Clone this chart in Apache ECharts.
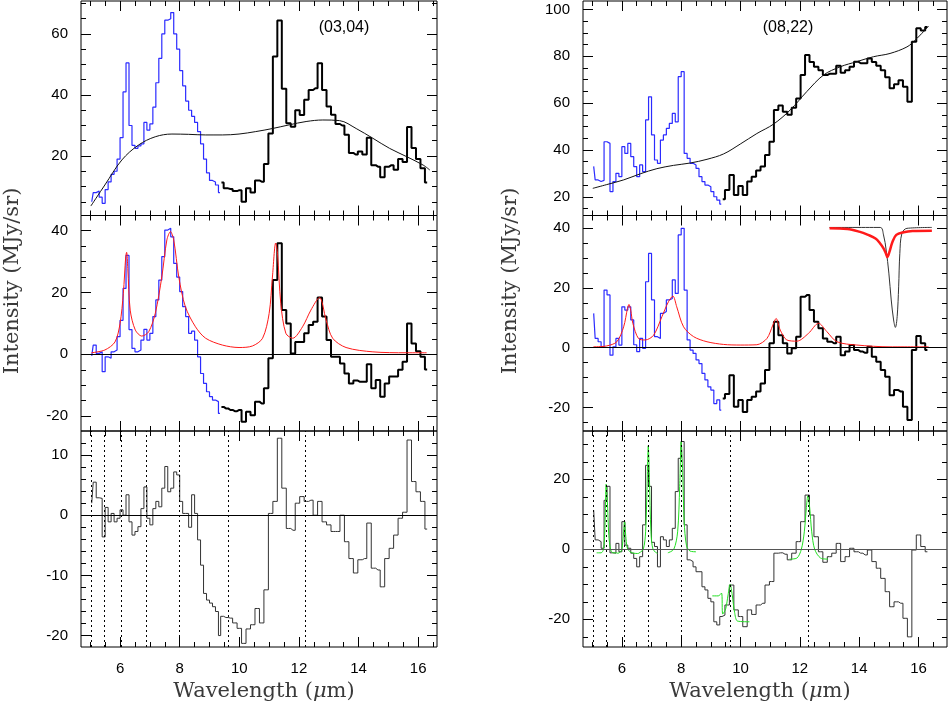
<!DOCTYPE html>
<html>
<head>
<meta charset="utf-8">
<script src="https://cdn.jsdelivr.net/npm/echarts@6/dist/echarts.min.js"></script>
<style>
  html, body { margin: 0; background: #fff; }
  #chart { width: 948px; height: 707px; }
</style>
</head>
<body>
<div id="chart"></div>
<script>
// Wavelength bins (um): short-wavelength module (blue, fine) and long-wavelength module (black, coarse)
const BLUE_X = [
  5.05, 5.15, 5.25, 5.35, 5.45, 5.55, 5.65, 5.75, 5.85, 5.95,
  6.05, 6.15, 6.25, 6.35, 6.45, 6.55, 6.65, 6.75, 6.85, 6.95,
  7.05, 7.15, 7.25, 7.35, 7.45, 7.55, 7.65, 7.75, 7.85, 7.95,
  8.05, 8.15, 8.25, 8.35, 8.45, 8.55, 8.65, 8.75, 8.85, 8.95,
  9.05, 9.15, 9.25, 9.35];
const BLACK_X = [
  9.40, 9.55, 9.70, 9.85, 10.00, 10.15, 10.30, 10.45, 10.60, 10.75,
  10.90, 11.05, 11.20, 11.35, 11.50, 11.65, 11.80, 11.95, 12.10, 12.25,
  12.40, 12.55, 12.70, 12.85, 13.00, 13.15, 13.30, 13.45, 13.60, 13.75,
  13.90, 14.05, 14.20, 14.35, 14.50, 14.65, 14.80, 14.95, 15.10, 15.25,
  15.40, 15.55, 15.70, 15.85, 16.00, 16.15, 16.30];

// ---- (03,04) ----
const LT_BLUE = [
  5, 8, 8.5, 6.5, 4.5, 9, 11.5, 14, 15, 19,
  26, 41, 50.5, 30, 23.5, 22.5, 23.3, 24, 31, 28.5,
  30.5, 36, 44, 52, 60, 64.5, 65, 67, 60, 55,
  48, 43, 38, 35, 33, 31, 28, 24, 19, 14.5,
  12, 11.5, 10.5, 8];
const LT_BLACK = [
  11.3, 9.4, 9.2, 8.5, 8.8, 5.0, 9.4, 8, 12, 11.6,
  17.4, 27.4, 52.6, 64.4, 42, 30.7, 29.6, 35, 33.4, 38.4,
  41.6, 42.2, 50.4, 41.6, 36.2, 33.5, 30.5, 30, 27, 21,
  20.5, 21.5, 20.5, 26, 17, 16.5, 13, 16.5, 17, 15.5,
  19, 18, 29.5, 22.6, 19, 16, 11.3];
const LT_CONT_X = [5.02, 5.49, 6.06, 6.62, 7.18, 7.74, 8.30, 8.87, 9.43, 9.99, 10.55,
  11.11, 11.67, 12.24, 12.80, 13.36, 13.92, 14.48, 15.04, 15.61, 16.17, 16.39];
const LT_CONT_Y = [3.6, 10.5, 18.7, 23.6, 26.3, 27.2, 27.1, 26.9, 26.9, 27.2, 28,
  29, 30.2, 31.3, 31.8, 31.6, 29, 25.8, 22.5, 19.8, 17, 15.4];

const LM_BLUE = [
  -0.5, 3, 0.3, 0.8, -5.6, -0.8, -1.3, 0.8, 1.4, 5.7,
  11, 21.3, 32, 8, 1.9, 0.8, 1.4, 4.6, 8.1, 4.6,
  6.8, 12.2, 17.6, 24, 31.6, 40.2, 40.8, 38, 29.4, 25,
  20.3, 15.4, 12.2, 6.8, 7.5, 4.6, -0.8, -6.2, -9.4, -12.1,
  -13.7, -14.8, -15.3, -19.1];
const LM_BLACK = [
  -17, -17.5, -18, -18.4, -18, -21.8, -18.6, -19.7, -15.3, -15.9,
  -11, -1.3, 24, 35.9, 14.3, 10, 0.3, 4, 4, 6.8,
  9.5, 10.5, 18.4, 12.2, 4.6, -0.8, -0.8, -3, -6.2, -9.4,
  -8.5, -8.9, -8.9, -3.2, -11, -8.3, -13.7, -9.4, -7.2, -7.2,
  -5, -2.4, 10, 3.5, 1, -0.8, -4.9];
const LM_FIT_X = [5.04, 5.49, 5.83, 6.0, 6.11, 6.19, 6.22, 6.26, 6.34, 6.51, 6.73, 6.96,
  7.18, 7.40, 7.57, 7.69, 7.80, 7.97, 8.19, 8.53, 8.87, 9.43, 9.99, 10.44, 10.78,
  11.0, 11.11, 11.22, 11.28, 11.39, 11.56, 11.79, 12.12, 12.40, 12.69, 12.91, 13.13,
  13.58, 14.48, 15.61, 16.28];
const LM_FIT_Y = [0.5, 1.4, 4, 10, 19.7, 31.6, 33, 27.8, 14.3, 7.9, 5.9, 7.3,
  13.2, 25, 37, 39.7, 37, 25, 15.4, 8.9, 5.2, 3, 2.2, 2.7, 5.2,
  13.2, 25, 36, 32.7, 16.5, 6.8, 5.2, 8.9, 14.3, 18.4, 11.1, 5.2,
  2.2, 0.8, 0.5, 0.5];

const LB_RES_BLUE = [
  2, 5.5, 2.9, 2.8, -3.6, 1.3, -1.1, 0.3, -1.1, -0.5,
  0.9, 0, 3.4, -1.1, -3.3, -2.7, -1.9, 1.1, 4.7, -0.5,
  -1.6, 1.1, 2.3, 1.4, 4.5, 8.1, 3.9, 4.5, 7.2, 6.7,
  2.3, 0.3, 0.3, -2, 3.4, 0.3, -4.1, -8.3, -13, -14.1,
  -14.6, -15.2, -16, -20];
const LB_RES_BLACK = [
  -16.8, -17, -17.1, -17.9, -18.8, -21.3, -18.9, -18.2, -15.5, -17.9,
  -12.4, 0.3, 2.3, 12.8, 4.5, -2.2, -2.5, 2, 3.1, 2.3,
  2.5, 0, 2.3, -1.1, -1.6, -2.7, -2.7, 0, -4.4, -7.2,
  -9.6, -7.4, -7.2, -1.3, -8.8, -9.1, -11.9, -7.2, -5.5, -3.3,
  -0.5, 0.5, 12.5, 5.6, 3.9, 2.3, -2.3];
const LB_LINES = [5.02, 5.46, 6.04, 6.87, 7.97, 9.63, 12.21];

// ---- (08,22) ----
const RT_BLUE = [
  33, 27.2, 26.5, 27, 43.5, 42.8, 22.2, 26.5, 30, 28.6,
  41.4, 38.5, 42.8, 37.1, 32.9, 28.6, 33.6, 30.7, 52.8, 62.7,
  46.4, 35.7, 34.3, 44.2, 46.4, 49.2, 51.3, 55.6, 52, 71.3,
  73.4, 38.5, 36.4, 34.3, 33.6, 32.1, 28.6, 26.5, 25, 24.3,
  22.2, 20, 18.6, 16.9];
const RT_BLACK = [
  18.9, 22.9, 29.3, 20.8, 24.6, 20.8, 26.5, 28.6, 31.2, 32.9,
  37.8, 43.5, 57, 59, 56.3, 55, 58, 62, 72, 80.5,
  77.5, 75.5, 74, 72, 72.5, 72.5, 76, 73, 74, 75.5,
  77.7, 77, 77, 79, 77.5, 76, 74, 71, 66.3, 68,
  69.8, 67, 60.6, 86.2, 92, 91, 92.5];
const RT_CONT_X = [5.02, 5.49, 6.06, 6.62, 7.18, 7.74, 8.30, 8.87, 9.43, 9.99, 10.55,
  11.11, 11.67, 12.24, 12.80, 13.36, 13.92, 14.48, 15.04, 15.61, 15.89, 16.34];
const RT_CONT_Y = [23.6, 25.2, 27.2, 29.8, 32, 33.4, 34.4, 36, 38.3, 42.5, 47,
  51, 57, 65, 72, 75.5, 77.7, 79.8, 81.2, 84, 86.9, 92.9];

const RM_BLUE = [
  11.5, 3.1, 2, 0.3, 19.3, 17.7, -2.5, 0.3, 3.1, 0.9,
  13.7, 12.6, 13.7, 9.3, 1, -1.3, 3.1, -0.2, 22.1, 31.6,
  16, 3.7, 3.1, 11.5, 12.1, 16, 16.5, 22.7, 18.2, 37.8,
  40, 19.3, 2.6, -0.8, -1.9, -4.1, -5.3, -8.6, -10.8, -13.1,
  -14.2, -18.7, -17.5, -20.9];
const RM_BLACK = [
  -17, -15.5, -9.2, -19.8, -17.5, -21.5, -17.5, -16.4, -14.7, -12,
  -7.5, 1.5, 8.7, 4.2, 1.5, -1.9, -0.2, 3.7, 17.1, 17.7,
  12.6, 8.7, 6.5, 3.1, 2, 1.5, 3.7, -2.5, -1.3, 0.9,
  -0.8, -1.3, -1.7, 0.3, -3, -4.7, -7.5, -9.7, -15.9, -14.2,
  -14.7, -19.8, -24.2, -0.8, 3.9, 1.5, -0.8];
const RM_FIT_X = [5.04, 5.49, 5.83, 6.06, 6.19, 6.24, 6.30, 6.37, 6.56, 6.79, 7.07,
  7.35, 7.57, 7.72, 7.85, 8.08, 8.42, 8.87, 9.43, 9.99, 10.55, 10.89, 11.09, 11.20,
  11.34, 11.56, 11.90, 12.29, 12.63, 12.91, 13.25, 13.92, 15.04, 16.34];
const RM_FIT_Y = [0.3, 0.6, 2, 7, 13.2, 14.5, 12.5, 8.2, 3.1, 2.6, 4.2,
  10.4, 15.4, 17.3, 13.7, 7, 3.7, 2, 1.1, 0.9, 1, 3.1, 7.6, 9.8,
  5.9, 2.6, 2.2, 4.8, 8.2, 5.4, 2, 0.9, 0.3, 0.3];
// inset profiles drawn in the upper right of the middle panel
const INSET_THIN_X = [13.0, 14.71, 14.82, 14.91, 15.0, 15.08, 15.16, 15.22, 15.28, 15.33,
  15.37, 15.44, 15.61, 16.45];
const INSET_THIN_Y = [40.3, 40.3, 37.8, 32.7, 25, 16, 9.3, 6.8, 10.4, 20.4,
  31.6, 38.3, 40, 40.3];
const INSET_RED_X = [13.0, 13.6, 14.0, 14.3, 14.55, 14.7, 14.82, 14.9, 14.95, 15.02,
  15.12, 15.25, 15.5, 15.8, 16.45];
const INSET_RED_Y = [40, 39.8, 38.9, 37.8, 36.6, 35, 33.3, 31.6, 30.4, 32.1,
  35.4, 37.8, 38.7, 39.1, 39.2];

const RB_RES_BLUE = [
  11.2, 2.7, 2.2, 0.3, 14, 18, -1, -1.1, 1.7, -0.7,
  7.9, 1.2, 0.3, -1.1, -2.6, -5, -2.1, 7, 24, 18,
  2, 0.8, -5, 3.6, 2.7, 0.8, 2.7, 6, 16.5, 26,
  30.8, 7, -3, -3.5, -5, -6.4, -6.4, -10.7, -11.6, -14,
  -15, -20.7, -21.6, -19.2];
const RB_RES_BLACK = [
  -18.8, -15.9, -10.2, -17.3, -19.2, -22.1, -17.3, -18.6, -15.9, -15.4,
  -10.2, -9.2, -1.1, -1, -1.4, -3, -1.1, 2.2, 7.9, 15.5,
  9.8, 3.6, -0.7, -3.7, -2.1, -1.1, 1.7, -3.5, -2.1, 0.3,
  -0.7, -1.1, -1.6, -0.2, -3.5, -5.4, -8.3, -12.1, -16.4, -15,
  -15.4, -19.7, -25, -0.2, 4.1, 0.8, -0.7];
const RB_LINES = [5.04, 5.49, 6.09, 6.90, 8.01, 9.65, 12.27];
// green band fits, one list of [um, value] per band
const RB_BANDS = [
  [[5.15, -1], [5.30, -1], [5.38, 0], [5.43, 6], [5.47, 18.6], [5.51, 14], [5.56, 4], [5.62, 0], [5.70, -1], [5.85, -1]],
  [[5.85, -1.2], [5.98, -0.5], [6.04, 3], [6.09, 7.9], [6.14, 3], [6.20, 0], [6.35, -1], [6.55, -1.2]],
  [[6.55, -1.2], [6.72, 0], [6.80, 5], [6.85, 18], [6.89, 29.6], [6.93, 20], [6.98, 5], [7.05, 0], [7.20, -1.2]],
  [[7.55, -1], [7.75, 0], [7.88, 5], [7.95, 18], [8.00, 30.8], [8.05, 22], [8.10, 8], [8.18, 1], [8.30, -0.5], [8.50, -0.7]],
  [[9.05, -13.3], [9.25, -13.3], [9.36, -12.5], [9.40, -18.5], [9.50, -17], [9.58, -13], [9.65, -10], [9.72, -13], [9.80, -18], [9.90, -20.5], [10.30, -20.7]],
  [[11.65, -2.8], [11.90, -2.5], [12.05, 0], [12.15, 5], [12.22, 12], [12.27, 15.3], [12.33, 12], [12.40, 5], [12.50, 0], [12.70, -2.5], [12.95, -2.8]],
];

// tick values
const X_MAJOR = [6, 8, 10, 12, 14, 16];
const X_MINOR = [5, 5.5, 6.5, 7, 7.5, 8.5, 9, 9.5, 10.5, 11, 11.5, 12.5, 13, 13.5, 14.5, 15, 15.5, 16.5];

// ---- layout ----
const COLS = [
  { left: 81, width: 356, xMin: 4.69, xMax: 16.63 },
  { left: 583, width: 364, xMin: 4.69, xMax: 16.96 },
];
const ROWS = [
  { top: 1, height: 214.5 },
  { top: 215.5, height: 215.5 },
  { top: 431, height: 216 },
];
const PANELS = [
  { col: 0, row: 0, yMin: 0.5, yMax: 70.8, yMajor: [20, 40, 60],
    yMinor: [5, 10, 15, 25, 30, 35, 45, 50, 55, 65, 70] },
  { col: 0, row: 1, yMin: -24.8, yMax: 44.9, yMajor: [-20, 0, 20, 40],
    yMinor: [-15, -10, -5, 5, 10, 15, 25, 30, 35] },
  { col: 0, row: 2, yMin: -21.9, yMax: 14, yMajor: [-20, -10, 0, 10],
    yMinor: [-18, -16, -14, -12, -8, -6, -4, -2, 2, 4, 6, 8, 12] },
  { col: 1, row: 0, yMin: 12, yMax: 103.6, yMajor: [20, 40, 60, 80, 100],
    yMinor: [15, 25, 30, 35, 45, 50, 55, 65, 70, 75, 85, 90, 95] },
  { col: 1, row: 1, yMin: -27.9, yMax: 44.3, yMajor: [-20, 0, 20, 40],
    yMinor: [-25, -15, -10, -5, 5, 10, 15, 25, 30, 35] },
  { col: 1, row: 2, yMin: -27.9, yMax: 33.8, yMajor: [-20, 0, 20],
    yMinor: [-25, -15, -10, -5, 5, 10, 15, 25, 30] },
];

const BLUE = '#2b2bff', RED = '#ff1a1a', GREEN = '#22e022';
const LABEL = { color: '#000', fontSize: 15, fontFamily: 'Liberation Sans' };

const grid = [], xAxis = [], yAxis = [];

function tickAxis(gi, pos, min, max, values, len, label) {
  return {
    type: 'value', gridIndex: gi, position: pos, min, max,
    axisLine: { show: false, onZero: false },
    splitLine: { show: false },
    axisTick: { show: true, inside: true, length: len, customValues: values,
      lineStyle: { color: '#000', width: 1 } },
    axisLabel: label
      ? { show: true, customValues: values, margin: pos === 'bottom' ? 14 : 13, ...LABEL }
      : { show: false },
  };
}

PANELS.forEach((p, gi) => {
  const c = COLS[p.col], r = ROWS[p.row];
  grid.push({ left: c.left, width: c.width, top: r.top, height: r.height,
    show: true, borderColor: '#000', borderWidth: 1 });
  const lastRow = p.row === 2;
  // index 4*gi is the data axis (bottom / left), the rest only carry ticks
  xAxis.push(tickAxis(gi, 'bottom', c.xMin, c.xMax, X_MAJOR, 10, lastRow));
  xAxis.push(tickAxis(gi, 'bottom', c.xMin, c.xMax, X_MINOR, 5, false));
  xAxis.push(tickAxis(gi, 'top', c.xMin, c.xMax, X_MAJOR, 10, false));
  xAxis.push(tickAxis(gi, 'top', c.xMin, c.xMax, X_MINOR, 5, false));
  yAxis.push(tickAxis(gi, 'left', p.yMin, p.yMax, p.yMajor, 10, true));
  yAxis.push(tickAxis(gi, 'left', p.yMin, p.yMax, p.yMinor, 5, false));
  yAxis.push(tickAxis(gi, 'right', p.yMin, p.yMax, p.yMajor, 10, false));
  yAxis.push(tickAxis(gi, 'right', p.yMin, p.yMax, p.yMinor, 5, false));
});

const zip = (xs, ys) => xs.map((x, i) => [x, ys[i]]);

function line(gi, data, color, width, extra) {
  return {
    type: 'line', xAxisIndex: 4 * gi, yAxisIndex: 4 * gi, data,
    showSymbol: false, symbol: 'none', silent: true, animation: false,
    lineStyle: { color, width }, ...extra,
  };
}
const step = (gi, xs, ys, color, width) => line(gi, zip(xs, ys), color, width, { step: 'middle' });
const smooth = (gi, xs, ys, color, width) => line(gi, zip(xs, ys), color, width, { smooth: 0.35 });

function guides(zeroColor, xs) {
  const data = [{ yAxis: 0, lineStyle: { color: zeroColor, type: 'solid', width: 1 } }];
  (xs || []).forEach(x => data.push({ xAxis: x, lineStyle: { color: '#000', type: [2, 3], width: 1 } }));
  return { markLine: { silent: true, symbol: 'none', label: { show: false }, animation: false, data } };
}

const series = [
  // (03,04)
  step(0, BLUE_X, LT_BLUE, BLUE, 1.2),
  step(0, BLACK_X, LT_BLACK, '#000', 2),
  smooth(0, LT_CONT_X, LT_CONT_Y, '#111', 1),
  { ...step(1, BLUE_X, LM_BLUE, BLUE, 1.2), ...guides('#000') },
  step(1, BLACK_X, LM_BLACK, '#000', 2),
  line(1, zip(LM_FIT_X, LM_FIT_Y), RED, 1, { smooth: 0.3 }),
  { ...step(2, BLUE_X.concat(BLACK_X), LB_RES_BLUE.concat(LB_RES_BLACK), '#333', 1), ...guides('#000', LB_LINES) },
  // (08,22)
  step(3, BLUE_X, RT_BLUE, BLUE, 1.2),
  step(3, BLACK_X, RT_BLACK, '#000', 2),
  smooth(3, RT_CONT_X, RT_CONT_Y, '#111', 1),
  { ...step(4, BLUE_X, RM_BLUE, BLUE, 1.2), ...guides('#000') },
  step(4, BLACK_X, RM_BLACK, '#000', 2),
  line(4, zip(RM_FIT_X, RM_FIT_Y), RED, 1, { smooth: 0.3 }),
  smooth(4, INSET_THIN_X, INSET_THIN_Y, '#333', 1),
  smooth(4, INSET_RED_X, INSET_RED_Y, RED, 2.5),
  { ...step(5, BLUE_X.concat(BLACK_X), RB_RES_BLUE.concat(RB_RES_BLACK), '#333', 1), ...guides('#555', RB_LINES) },
  ...RB_BANDS.map(b => line(5, b, GREEN, 1, { smooth: 0.3 })),
];

const SERIF = { fontFamily: 'DejaVu Serif', fontSize: 21 };
const TITLE_INK = '#3a3a3a';
function yTitle(x) {
  return { type: 'text', x, y: 281, rotation: Math.PI / 2, silent: true,
    style: { text: 'Intensity (MJy/sr)', fill: TITLE_INK, align: 'center', verticalAlign: 'middle',
      font: '21px "DejaVu Serif"' } };
}
function xTitle(x) {
  return { type: 'text', x, y: 692, silent: true,
    style: { text: '{n|Wavelength (}{i|μ}{n|m)}', fill: TITLE_INK, align: 'center', verticalAlign: 'middle',
      font: '21px "DejaVu Serif"',
      rich: { n: { ...SERIF, fill: TITLE_INK }, i: { ...SERIF, fontStyle: 'italic', fill: TITLE_INK } } } };
}
function tag(text, x) {
  return { type: 'text', x, y: 28, silent: true,
    style: { text, fill: '#000', align: 'center', verticalAlign: 'middle', font: '16px "Liberation Sans"' } };
}

const chart = echarts.init(document.getElementById('chart'));
chart.setOption({
  backgroundColor: '#fff',
  animation: false,
  grid, xAxis, yAxis, series,
  graphic: [yTitle(13), yTitle(511), xTitle(264), xTitle(760), tag('(03,04)', 344), tag('(08,22)', 788)],
});
</script>
</body>
</html>
